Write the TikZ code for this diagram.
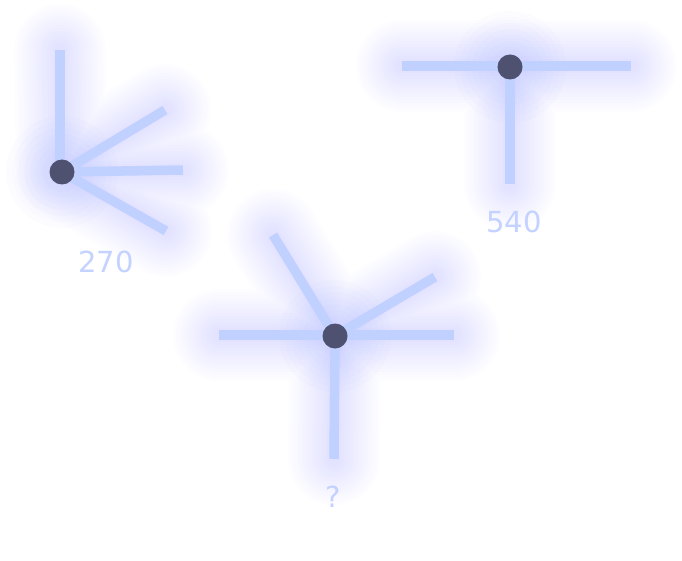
\documentclass[tikz,border=0pt]{standalone}
\usepackage{fontspec}
\setmainfont{DejaVu Sans}
\definecolor{spoke}{HTML}{C0D0FF}
\definecolor{hub}{HTML}{4E5270}
\definecolor{glowc}{HTML}{7482FF}
\definecolor{lbl}{HTML}{C4D2FF}
\newcommand\glowpath[2]{%
  \foreach \i in {1,...,14}{%
    \draw[glowc, line width={8+6*\i}, line cap=round, opacity=0.010] #2;}%
  \foreach \r in {14,20,...,56}{%
    \fill[glowc, opacity=0.018] (#1) circle (\r);}}
\tikzset{
  spokeline/.style={spoke, line width=9.5pt, line cap=butt},
  hubdot/.style={circle, fill=hub, minimum size=25pt, inner sep=0pt},
  numlabel/.style={text=lbl, font=\fontsize{29}{34}\selectfont, inner sep=0pt}
}
\begin{document}
\begin{tikzpicture}[x=1pt,y=-1pt]
\useasboundingbox[fill=white] (0,0) rectangle (682,561);
% figure 1
\coordinate (h1) at (62,172);
\coordinate (a1) at (60,50);
\coordinate (b1) at (165,110);
\coordinate (c1) at (183,170);
\coordinate (d1) at (166,231);
% figure 2
\coordinate (h2) at (510,67);
\coordinate (a2) at (402,66);
\coordinate (b2) at (631,66);
\coordinate (c2) at (510,184);
% figure 3
\coordinate (h3) at (335,336);
\coordinate (a3) at (273,235);
\coordinate (b3) at (435,277);
\coordinate (c3) at (454,335);
\coordinate (d3) at (219,335);
\coordinate (e3) at (334,459);
% glows
\glowpath{h1}{(h1) -- (a1) (h1) -- (b1) (h1) -- (c1) (h1) -- (d1)}
\glowpath{h2}{(a2) -- (b2) (h2) -- (c2)}
\glowpath{h3}{(h3) -- (a3) (h3) -- (b3) (c3) -- (d3) (h3) -- (e3)}
% spokes
\draw[spokeline] (h1) -- (60,172) -- (a1);
\draw[spokeline] (h1) -- (b1);
\draw[spokeline] (h1) -- (c1);
\draw[spokeline] (h1) -- (d1);
\draw[spokeline] (a2) -- (b2);
\draw[spokeline] (h2) -- (c2);
\draw[spokeline] (h3) -- (a3);
\draw[spokeline] (h3) -- (b3);
\draw[spokeline] (c3) -- (d3);
\draw[spokeline] (h3) -- (e3);
% hubs
\node[hubdot] (n1) at (h1) {};
\node[hubdot] (n2) at (h2) {};
\node[hubdot] (n3) at (h3) {};
% labels
\node[numlabel] (l1) at (106,262) {270};
\node[numlabel] (l2) at (514,222) {540};
\node[numlabel] (l3) at (333,497) {?};
\end{tikzpicture}
\end{document}
